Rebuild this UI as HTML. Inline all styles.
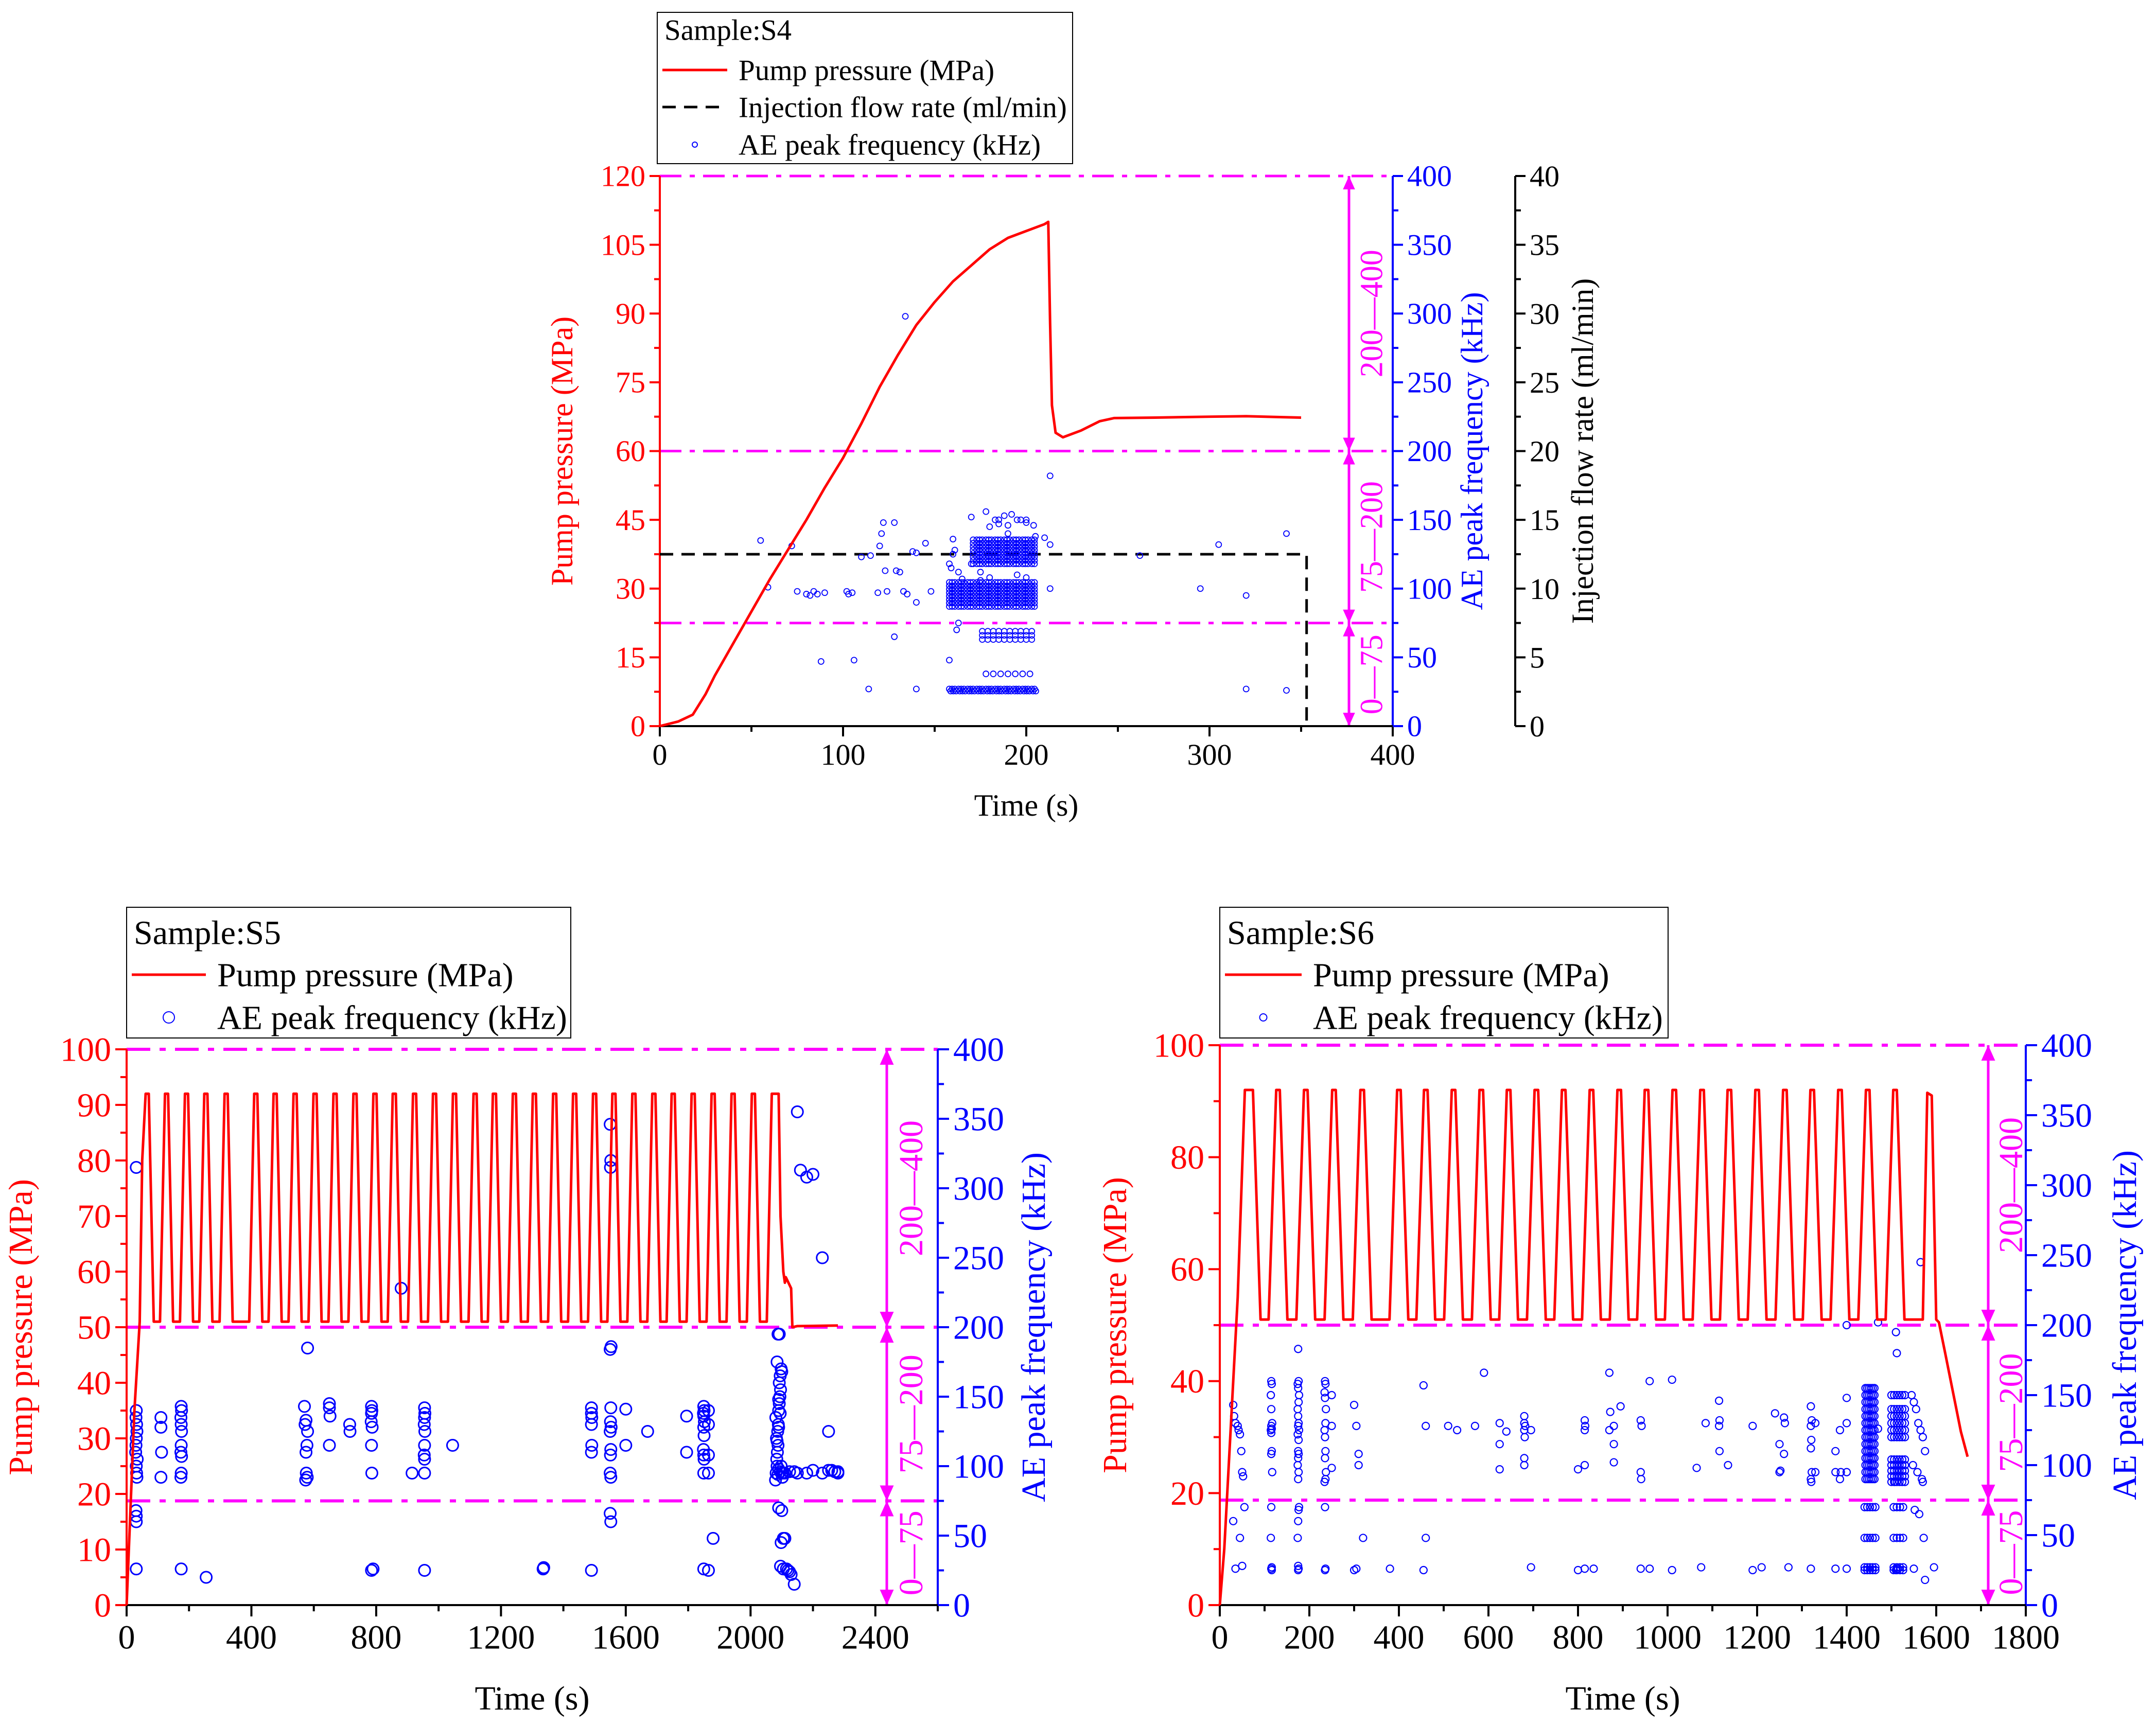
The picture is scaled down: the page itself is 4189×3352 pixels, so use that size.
<!DOCTYPE html>
<html><head><meta charset="utf-8"><style>
html,body{margin:0;padding:0;background:#fff}
svg{display:block;font-family:"Liberation Serif",serif}
</style></head><body>
<svg id="fig" width="4189" height="3352" viewBox="0 0 4189 3352" xmlns="http://www.w3.org/2000/svg"></svg>
<script>
// ===== S4 data =====
const s4PumpT = [0,10,18,25,30,40,50,60,70,80,90,100,110,120,125,130,140,150,160,170,180,190,200,210,212,213,214,216,220,230,240,248,270,300,320,340,350];
const s4PumpP = [0,1,2.5,7,11,18,25,32,38.5,45,52,58.5,66,74,77.5,81,87.5,92.5,97,100.5,104,106.5,108,109.5,110,88,70,64,63,64.5,66.5,67.2,67.3,67.5,67.6,67.4,67.3];
const s4FlowT = [0,353,353];
const s4FlowV = [12.5,12.5,0];
const s4AeT = [55,59,72,75,80,82,84,86,90,88,102,103,105,106,110,114,115,119,120,121,122,123,124,128,128,129,131,133,134,135,138,140,140,145,148,140,158,162,163,170,178,183,188,192,197,200,205,210,213,213,213,262,295,305,320,320,342,342,160,161,159,163,165,158,160,170,175,180,185,190,195,200,204,185,190,195,180,175,200];
const s4AeF = [135,101,131,98,96,95,98,96,97,47,98,96,97,48,123,27,124,97,131,140,148,113,98,148,65,113,112,98,298,96,127,90,126,133,98,27,48,70,75,152,156,150,153,154,150,150,138,137,182,100,132,124,100,132,95,27,140,26,136,128,115,112,107,118,125,118,112,145,147,146,150,148,146,150,140,110,108,106,108];
const s4BandT = [158,159.5,161,163,164.5,166,168,169.5,171,173,174.5,176,178,179.5,181,183,184.5,186,188,189.5,191,193,194.5,196,198,199.5,201,203,204.5];
const s4BandHiF = [118,120.5,123,125.5,128,130.5,133,135.5];
const s4BandLoF = [87,89.5,92,94.5,97,99.5,102,104.5];
const s4Band63T = [176,179,182,185,188,191,194,197,200,203];
const s4Band63F = [63,66,69];
const s4Band38T = [178,182,186,190,194,198,202];
const s4Band27T = [158,159.5,161,163,164.5,166,168,169.5,171,173,174.5,176,178,179.5,181,183,184.5,186,188,189.5,191,193,194.5,196,198,199.5,201,203,204.5];
// ===== S5 data =====
const s5Peaks = [66,128,192,254,319,414,476,540,604,668,732,796,858,923,987,1051,1117,1179,1243,1307,1372,1436,1500,1562,1626,1690,1752,1816,1880,1944,2009,2073];
const s5Low = [51], s5High = [92];
const s5StartT = [0,25,42,50];
const s5StartP = [0,35,51,80];
const s5EndT = [2090,2096,2105,2110,2113,2130,2134,2150,2280];
const s5EndP = [92,70,60,58,59,57,50,50.2,50.3];
const s5AeT = [31,30,32,33,31,30,29,34,31,32,33,30,31,31,31,31,110,110,112,110,175,176,174,175,176,175,174,176,175,174,175,255,570,575,572,580,578,575,576,579,574,580,650,650,652,650,715,716,785,786,785,784,787,785,786,785,790,880,915,955,956,955,954,956,955,954,955,955,955,1045,1335,1337,1490,1490,1491,1490,1491,1490,1490,1550,1552,1551,1553,1550,1552,1551,1553,1550,1552,1551,1550,1552,1550,1552,1600,1600,1670,1795,1795,1850,1851,1849,1850,1852,1850,1851,1849,1850,1851,1850,1850,1865,1865,1865,1865,1865,1880,2080,2082,2085,2084,2086,2088,2083,2087,2089,2081,2090,2092,2094,2096,2098,2100,2102,2104,2090,2095,2100,2088,2092,2095,2098,2085,2090,2095,2090,2085,2088,2092,2100,2090,2100,2105,2110,2098,2096,2120,2125,2130,2140,2150,2160,2180,2200,2230,2250,2260,2270,2280,2140,2200,2230,2280,2150,2180,2125,2250,2110,2115,2105];
const s5AeF = [140,135,130,125,120,115,110,105,100,95,92,68,64,60,26,315,135,128,110,92,143,140,135,130,125,115,110,107,95,92,26,20,143,133,130,125,115,110,95,92,90,185,145,142,136,115,130,125,143,140,138,132,128,115,95,25,26,228,95,142,138,135,130,125,115,108,105,95,25,115,26,27,142,138,135,130,115,110,25,346,320,315,186,184,142,132,128,125,112,108,95,92,66,60,141,115,125,136,110,143,140,138,136,132,128,122,112,108,105,95,26,140,130,108,95,25,48,90,95,100,105,110,115,120,125,130,135,140,145,150,155,100,95,92,95,98,96,95,94,160,165,170,175,148,138,128,118,195,195,168,70,68,48,48,45,28,25,24,22,15,355,313,308,310,250,125,97,96,95,96,97,95,96,95,95,96,97,95,26,26,26,26,58,115,125,275,308,307,130];
// ===== S6 data =====
const s6Peaks = [70,130,192,255,318,400,460,522,584,645,707,768,830,892,953,1015,1077,1138,1200,1262,1323,1385,1447,1508];
const s6Low = [51], s6High = [92];
const s6StartT = [0,10,40,56];
const s6StartP = [0,10,55,92];
const s6EndT = [1570,1580,1590,1600,1606,1620,1640,1655,1670];
const s6EndP = [51,91.5,91,51,50.5,45,37,31,26.5];
const s6AeT = [30,32,35,40,42,45,48,50,52,55,30,45,50,35,115,116,114,115,117,115,116,114,115,116,115,117,115,114,116,115,116,175,176,174,175,177,176,174,175,176,175,177,174,176,175,176,175,174,176,175,177,176,175,174,175,176,175,235,236,234,235,237,236,234,235,236,235,237,236,234,235,236,235,250,250,250,300,305,310,310,305,300,320,380,455,460,455,460,510,530,570,590,625,625,625,640,680,680,682,680,681,680,680,695,695,800,800,815,816,815,815,815,835,870,872,870,880,880,880,895,940,942,940,941,940,960,960,1010,1010,1065,1075,1085,1115,1116,1115,1116,1135,1190,1190,1210,1240,1250,1252,1250,1260,1262,1260,1270,1320,1322,1320,1321,1320,1322,1320,1321,1320,1330,1330,1375,1375,1375,1385,1387,1385,1400,1400,1400,1400,1400,1470,1470,1545,1550,1555,1560,1565,1570,1575,1548,1558,1568,1552,1562,1572,1550,1575,1565,1570,1595,1510,1512,1515,1508,1510,1512];
const s6AeF = [143,135,130,128,125,122,110,95,92,70,60,48,28,26,160,158,150,140,130,128,126,125,123,110,108,95,70,48,27,26,25,183,160,158,155,150,145,140,135,130,128,125,122,118,110,108,105,100,95,90,70,68,60,48,28,26,25,160,158,152,148,140,130,125,120,110,105,95,90,88,70,26,25,150,128,98,143,128,108,100,26,25,48,26,157,128,25,48,128,125,128,166,130,115,97,124,135,130,128,125,120,105,100,125,27,97,25,132,128,125,100,26,26,166,138,125,128,115,102,142,132,128,95,90,26,160,26,161,25,98,27,130,146,132,128,110,100,128,25,27,137,115,96,95,134,130,108,27,142,132,128,118,112,95,90,88,26,130,95,110,95,26,125,95,90,200,148,130,95,26,202,126,150,145,140,130,125,120,110,100,95,90,68,65,48,26,18,245,88,27,25,26,26,88,195,180,178,255,350,70];
const s6ClusterT = [1442,1446,1450,1454,1458,1462];
const s6ClusterF = [90,95,100,105,110,115,120,125,130,135,140,145,150,155];
const s6Cluster2T = [1500,1506,1512,1518,1524,1530];
const s6Cluster2F = [88,92,96,100,104,120,125,130,135,140,150];
const s6LowCT = [1440,1446,1452,1458,1464,1505,1512,1519,1526];
const s6LowCF = [25,27,48,70];

const NS='http://www.w3.org/2000/svg';
const svg=document.getElementById('fig');
function el(tag,attrs,parent){const e=document.createElementNS(NS,tag);for(const k in attrs)e.setAttribute(k,attrs[k]);(parent||svg).appendChild(e);return e;}
function txt(s,x,y,size,fill,anchor,rot,parent){const t=el('text',{x:x,y:y,'font-size':size,fill:fill,'text-anchor':anchor||'middle'},parent);if(rot)t.setAttribute('transform','rotate(-90 '+x+' '+y+')');t.textContent=s;return t;}

function makeChart(c){
  const g=el('g',{});
  
  
  const sx=t=>c.L+t/c.xmax*(c.R-c.L);
  const sy=v=>c.B-v/c.ymax*(c.B-c.T);
  const sf=f=>c.B-f/400*(c.B-c.T);
  c.sx=sx;c.sy=sy;c.sf=sf;
  const zg=el('g',{},g);
  
  
  [75,200,400].forEach(f=>{
    const l=el('line',{x1:c.L,x2:c.R,y1:sf(f),y2:sf(f),stroke:'#ff00ff','stroke-width':c.zw,'stroke-dasharray':c.zd},zg);
    
    
  });
  const ax=c.arrowX;
  el('line',{x1:ax,x2:ax,y1:sf(400),y2:sf(0),stroke:'#ff00ff','stroke-width':c.aw},zg);
  const ah=c.ah;
  [[400,1],[200,-1],[200,1],[75,-1],[75,1],[0,-1]].forEach(([f,d])=>{
    const y=sf(f);
    el('polygon',{points:`${ax},${y} ${ax-ah*0.45},${y+d*ah} ${ax+ah*0.45},${y+d*ah}`,fill:'#ff00ff'},zg);
  });
  [['200\u2014400',200,400],['75\u2014200',75,200],['0\u201475',0,75]].forEach(([s,a,b])=>{
    const cy=(sf(a)+sf(b))/2;
    const bx=c.zoneLabelX+c.zf*0.35;
    const t=txt(s,bx,cy,c.zf,'#ff00ff','middle',true,zg);
    
    
  });
  const ag=el('g',{},g);
  
  
  el('line',{x1:c.L,x2:c.L,y1:c.T,y2:c.B,stroke:'#ff0000','stroke-width':c.lw},ag);
  el('line',{x1:c.R,x2:c.R,y1:c.T,y2:c.B,stroke:'#0000ff','stroke-width':c.lw},ag);
  el('line',{x1:c.L,x2:c.R,y1:c.B,y2:c.B,stroke:'#000','stroke-width':c.lw},ag);
  for(let v=0;v<=c.xmax+1e-6;v+=c.xstep/2){
    const major=Math.abs(v/c.xstep-Math.round(v/c.xstep))<1e-6;
    el('line',{x1:sx(v),x2:sx(v),y1:c.B,y2:c.B+(major?c.tl:c.tl*0.55),stroke:'#000','stroke-width':c.lw},ag);
    if(major&&v<=c.xlabMax){const t=txt(String(v),sx(v),c.B+c.tl+c.tf*0.95,c.tf,'#000','middle',false,ag);
      }
  }
  for(let v=0;v<=c.ymax+1e-6;v+=c.ystep/2){
    const major=Math.abs(v/c.ystep-Math.round(v/c.ystep))<1e-6;
    el('line',{x1:c.L,x2:c.L-(major?c.tl:c.tl*0.55),y1:sy(v),y2:sy(v),stroke:'#ff0000','stroke-width':c.lw},ag);
    if(major){const t=txt(String(v),c.L-c.tl-8,sy(v)+c.tf*0.34,c.tf,'#ff0000','end',false,ag);
      }
  }
  for(let v=0;v<=400;v+=25){
    const major=v%50===0;
    el('line',{x1:c.R,x2:c.R+(major?c.tl:c.tl*0.55),y1:sf(v),y2:sf(v),stroke:'#0000ff','stroke-width':c.lw},ag);
    if(major){const t=txt(String(v),c.R+c.tl+8,sf(v)+c.tf*0.34,c.tf,'#0000ff','start',false,ag);
      }
  }
  let t=txt('Time (s)',(c.L+c.R)/2,c.xTitleY,c.af,'#000','middle',false,g);
  
  t=txt('Pump pressure (MPa)',c.lTitleX,(c.T+c.B)/2,c.af,'#ff0000','middle',true,g);
  
  t=txt('AE peak frequency (kHz)',c.bTitleX,(c.T+c.B)/2,c.af,'#0000ff','middle',true,g);
  
  c.g=g;
  return c;
}
function scatter(c,T,F,r,sw,name){
  const g=el('g',{},c.g);
  
  
  for(let i=0;i<T.length;i++){
    const p=el('circle',{cx:c.sx(T[i]),cy:c.sf(F[i]),r:r,fill:'none',stroke:'#0000ff','stroke-width':sw},g);
    
    
  }
  return g;
}
function grid(T,F){const a=[],b=[];T.forEach(t=>F.forEach(f=>{a.push(t);b.push(f);}));return [a,b];}
function polyline(c,T,P,color,w,dash,name,yfn){
  const pts=T.map((t,i)=>c.sx(t)+','+yfn(P[i])).join(' ');
  const l=el('polyline',{points:pts,fill:'none',stroke:color,'stroke-width':w,'stroke-linejoin':'round'},c.g);
  if(dash)l.setAttribute('stroke-dasharray',dash);
  
  
}
function cyclic(startT,startP,peaks,low,high,endT,endP,rise,top){
  const T=[...startT],P=[...startP];
  peaks.forEach((pk,i)=>{
    if(i>0){T.push(pk-top-rise);P.push(low[0]);}
    T.push(pk-top);P.push(high[0]);T.push(pk+top);P.push(high[0]);
    if(i<peaks.length-1){T.push(pk+top+rise);P.push(low[0]);}
  });
  if(endT[0]>peaks[peaks.length-1]+top+rise){T.push(peaks[peaks.length-1]+top+rise);P.push(low[0]);}
  return [T.concat(endT),P.concat(endP)];
}
function legend(x,y,w,h,fs,rows,name){
  const g=el('g',{});
  
  
  el('rect',{x:x,y:y,width:w,height:h,fill:'#fff',stroke:'#000','stroke-width':2},g);
  rows.forEach(r=>{
    if(r.kind==='title'){const t=txt(r.text,x+14,r.y+fs*0.34,fs,'#000','start',false,g);return;}
    if(r.kind==='line'){el('line',{x1:x+10,x2:r.x-22,y1:r.y,y2:r.y,stroke:r.color,'stroke-width':r.w,'stroke-dasharray':r.dash||'none'},g);}
    if(r.kind==='dot'){el('circle',{cx:(x+r.x)/2-6,cy:r.y,r:r.r,fill:'none',stroke:'#0000ff','stroke-width':2},g);}
    const t=txt(r.text,r.x,r.y+fs*0.34,fs,'#000','start',false,g);
    
  });
}

// ===== S4 chart =====
const c4=makeChart({name:'chart-s4',L:1282,R:2706,T:342,B:1411,xmax:400,xstep:100,xlabMax:400,ymax:120,ystep:15,
  lw:4,tl:20,tf:58,af:60,zf:62,zw:5,zd:'42,16,10,16',aw:5,ah:26,arrowX:2621,zoneLabelX:2664,
  xTitleY:1585,lTitleX:1112,bTitleX:2880});
(function(){
  const g=el('g',{},c4.g);
  
  
  const X=2944, sq=v=>c4.B-v/40*(c4.B-c4.T);
  el('line',{x1:X,x2:X,y1:c4.T,y2:c4.B,stroke:'#000','stroke-width':4},g);
  for(let v=0;v<=40;v+=2.5){const m=v%5===0;
    el('line',{x1:X,x2:X+(m?20:11),y1:sq(v),y2:sq(v),stroke:'#000','stroke-width':4},g);
    if(m){const t=txt(String(v),X+28,sq(v)+20,58,'#000','start',false,g);}}
  const t=txt('Injection flow rate (ml/min)',3095,(c4.T+c4.B)/2,60,'#000','middle',true,g);
  
  c4.sq=sq;
})();
polyline(c4,s4FlowT,s4FlowV,'#000',5,'26,16','flow-rate-line',c4.sq);
scatter(c4,s4AeT,s4AeF,5.5,1.8,'ae-scatter-s4');
(function(){
  const T=[],F=[];
  s4BandT.forEach(t=>{s4BandLoF.forEach(f=>{T.push(t);F.push(f);});if(t>=170)s4BandHiF.forEach(f=>{T.push(t);F.push(f);});});
  s4Band63T.forEach(t=>s4Band63F.forEach(f=>{T.push(t);F.push(f);}));
  s4Band38T.forEach(t=>{T.push(t);F.push(38);});
  s4Band27T.forEach(t=>{T.push(t);F.push(27);T.push(t+0.7);F.push(25.5);});
  scatter(c4,T,F,5.5,1.8,'ae-dense-bands-s4');
})();
polyline(c4,s4PumpT,s4PumpP,'#ff0000',5,null,'pump-pressure-line',c4.sy);
legend(1277,24,807,294,57,[
  {kind:'title',text:'Sample:S4',y:58},
  {kind:'line',text:'Pump pressure (MPa)',x:1435,y:136,color:'#ff0000',w:5},
  {kind:'line',text:'Injection flow rate (ml/min)',x:1435,y:208,color:'#000',w:5,dash:'26,16'},
  {kind:'dot',text:'AE peak frequency (kHz)',x:1435,y:281,r:5}],'legend-s4');

// ===== S5 chart =====
const c5=makeChart({name:'chart-s5',L:246,R:1822,T:2039,B:3119,xmax:2600,xstep:400,xlabMax:2400,ymax:100,ystep:10,
  lw:4,tl:22,tf:66,af:66,zf:66,zw:6,zd:'46,18,12,18',aw:5,ah:30,arrowX:1723,zoneLabelX:1769,
  xTitleY:3322,lTitleX:62,bTitleX:2030});
scatter(c5,s5AeT,s5AeF,11,3,'ae-scatter-s5');
(function(){const [T,P]=cyclic(s5StartT,s5StartP,s5Peaks,s5Low,s5High,s5EndT,s5EndP,16,5);
  polyline(c5,T,P,'#ff0000',5,null,'pump-pressure-line',c5.sy);})();
legend(246,1763,863,254,66,[
  {kind:'title',text:'Sample:S5',y:1812},
  {kind:'line',text:'Pump pressure (MPa)',x:422,y:1894,color:'#ff0000',w:5},
  {kind:'dot',text:'AE peak frequency (kHz)',x:422,y:1977,r:11}],'legend-s5');

// ===== S6 chart =====
const c6=makeChart({name:'chart-s6',L:2370,R:3936,T:2031,B:3119,xmax:1800,xstep:200,xlabMax:1800,ymax:100,ystep:20,
  lw:4,tl:22,tf:66,af:66,zf:66,zw:6,zd:'46,18,12,18',aw:5,ah:30,arrowX:3863,zoneLabelX:3906,
  xTitleY:3322,lTitleX:2188,bTitleX:4150});
scatter(c6,s6AeT,s6AeF,7,2.2,'ae-scatter-s6');
(function(){
  let [a,b]=grid(s6ClusterT,s6ClusterF);scatter(c6,a,b,7,2.2,'ae-cluster-s6-a');
  [a,b]=grid(s6Cluster2T,s6Cluster2F);scatter(c6,a,b,7,2.2,'ae-cluster-s6-b');
  [a,b]=grid(s6LowCT,s6LowCF);scatter(c6,a,b,7,2.2,'ae-cluster-s6-low');
})();
(function(){const [T,P]=cyclic(s6StartT,s6StartP,s6Peaks,s6Low,s6High,s6EndT,s6EndP,17,4);
  polyline(c6,T,P,'#ff0000',5,null,'pump-pressure-line',c6.sy);})();
legend(2370,1763,871,254,66,[
  {kind:'title',text:'Sample:S6',y:1812},
  {kind:'line',text:'Pump pressure (MPa)',x:2551,y:1894,color:'#ff0000',w:5},
  {kind:'dot',text:'AE peak frequency (kHz)',x:2551,y:1977,r:7}],'legend-s6');
</script>
</body></html>
